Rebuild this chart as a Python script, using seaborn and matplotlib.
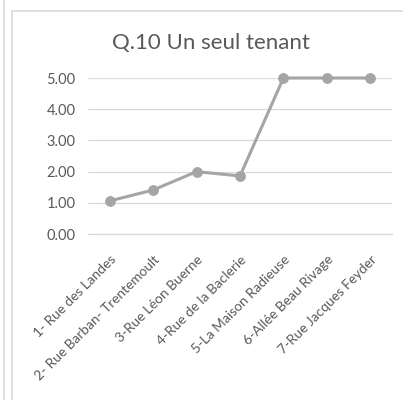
#!/usr/bin/env python3
"""Line chart: Q.10 Un seul tenant."""

import matplotlib
matplotlib.use('Agg')
import matplotlib.pyplot as plt
import seaborn as sns
import pandas as pd
from matplotlib.patches import Rectangle
from matplotlib.lines import Line2D

sns.set_theme(style='white')
plt.rcParams['font.family'] = ['Lato', 'DejaVu Sans']

TITLE = 'Q.10 Un seul tenant'
STREETS = [
    '1- Rue des Landes',
    '2- Rue Barban- Trentemoult',
    '3-Rue Léon Buerne',
    '4-Rue de la Baclerie',
    '5-La Maison Radieuse',
    '6-Allée Beau Rivage',
    '7-Rue Jacques Feyder',
]
SCORES = [1.06, 1.41, 2.00, 1.86, 5.00, 5.00, 5.00]
Y_TICKS = [0, 1, 2, 3, 4, 5]

TEXT_COLOR = '#595959'
LINE_COLOR = '#a5a5a5'
GRID_COLOR = '#d9d9d9'

df = pd.DataFrame({'street': STREETS, 'score': SCORES})
df['pos'] = range(len(df))

fig = plt.figure(figsize=(4.03, 4.0), dpi=100)

# chart frame and the edge of the neighbouring chart
fig.patches.append(Rectangle((12 / 403, -0.01), 1.0, 1 - 11 / 400 + 0.01,
                             transform=fig.transFigure, fill=False,
                             edgecolor='#d9d9d9', linewidth=1.2))
fig.lines.append(Line2D([4 / 403, 4 / 403], [0, 1], transform=fig.transFigure,
                        color='#d9d9d9', linewidth=1.2))

ax = fig.add_axes([88 / 403, 1 - 234 / 400, 304 / 403, 156 / 400])

sns.lineplot(data=df, x='pos', y='score', ax=ax, color=LINE_COLOR,
             linewidth=2.2, marker='o', markersize=7,
             markeredgecolor=LINE_COLOR, markerfacecolor=LINE_COLOR)

ax.set_xlim(-0.5, len(STREETS) - 0.5)
ax.set_ylim(0, 5)
ax.set_yticks(Y_TICKS)
ax.set_yticklabels([f'{v:.2f}' for v in Y_TICKS], color=TEXT_COLOR, fontsize=10.5)
ax.set_xticks(df['pos'])
ax.set_xticklabels(STREETS, rotation=45, ha='right', rotation_mode='anchor',
                   color=TEXT_COLOR, fontsize=9.8)
ax.tick_params(axis='y', length=0, pad=9)
ax.tick_params(axis='x', length=0, pad=14)

ax.grid(True, axis='y', color=GRID_COLOR, linewidth=0.9)
ax.set_axisbelow(True)
for side in ['top', 'right', 'left']:
    ax.spines[side].set_visible(False)
ax.spines['bottom'].set_color(GRID_COLOR)
ax.spines['bottom'].set_linewidth(0.9)

ax.set_xlabel('')
ax.set_ylabel('')
for line in ax.lines:
    line.set_clip_on(False)

fig.text(211 / 403, 1 - 43 / 400, TITLE, ha='center', va='center',
         fontsize=16, color=TEXT_COLOR)

plt.savefig('out.png', dpi=100)
plt.close()
